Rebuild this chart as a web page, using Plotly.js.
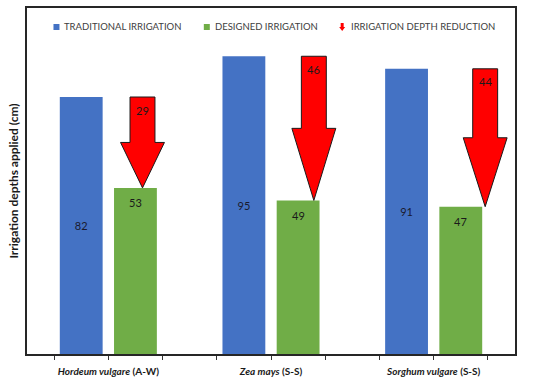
<!DOCTYPE html>
<html>
<head>
<meta charset="utf-8">
<script src="https://cdn.plot.ly/plotly-3.0.1.min.js"></script>
<style>html,body{margin:0;padding:0;background:#fff;}#chart{width:550px;height:385px;}</style>
</head>
<body>
<div id="chart"></div>
<script>
// ---- data ----
var crops = ['<b><i>Hordeum vulgare</i> (A-W)</b>', '<b><i>Zea mays</i> (S-S)</b>', '<b><i>Sorghum vulgare</i> (S-S)</b>'];
var traditional = [82, 95, 91];
var designed = [53, 49, 47];
var reduction = [29, 46, 44];
var seriesNames = ['TRADITIONAL IRRIGATION', 'DESIGNED IRRIGATION', 'IRRIGATION DEPTH REDUCTION'];

// ---- layout constants ----
var FONT = 'Lato, "Open Sans", sans-serif';
var ML = 26.5, MR = 35, MT = 8, MB = 31;
var W = 550, H = 385;
var PW = W - ML - MR, PH = H - MT - MB;
var BLUE = '#4472C4', GREEN = '#70AD47', RED = '#FF0000';
var arrowOffset = [0.13, 0.29, 0.45];
var shaftHalf = 0.23, headHalf = 0.405;

var xBlue = crops.map(function(_, i){ return 3*i + 0.5; });
var xGreen = crops.map(function(_, i){ return 3*i + 1.5; });

var traces = [
  {type:'bar', x:xBlue, y:traditional, width:0.79, marker:{color:BLUE},
   text:traditional.map(String), textposition:'inside', insidetextanchor:'middle',
   textfont:{family:FONT, size:11, color:'#1a1a2e'}, hoverinfo:'none', name:seriesNames[0]},
  {type:'bar', x:xGreen, y:designed, width:0.79, marker:{color:GREEN},
   hoverinfo:'none', name:seriesNames[1]}
];

var shapes = [];
var annotations = [];
function f(v){ return Number(v).toFixed(4); }
for (var i = 0; i < crops.length; i++) {
  var cx = xGreen[i] + arrowOffset[i];
  var yTop = traditional[i], yBot = designed[i], yMid = (yTop + yBot) / 2;
  shapes.push({type:'path', xref:'x', yref:'y',
    path:'M'+f(cx-shaftHalf)+','+f(yTop)+' L'+f(cx+shaftHalf)+','+f(yTop)+' L'+f(cx+shaftHalf)+','+f(yMid)+
         ' L'+f(cx+headHalf)+','+f(yMid)+' L'+f(cx)+','+f(yBot)+' L'+f(cx-headHalf)+','+f(yMid)+' L'+f(cx-shaftHalf)+','+f(yMid)+' Z',
    fillcolor:RED, line:{color:'#1a1a1a', width:1}});
  annotations.push({x:cx, y:yTop, xref:'x', yref:'y', text:String(reduction[i]), showarrow:false,
    yshift:-13, font:{family:FONT, size:11, color:'#1a1a1a'}});
  annotations.push({x:xGreen[i], y:designed[i], xref:'x', yref:'y', text:String(designed[i]), showarrow:false,
    yshift:-15, font:{family:FONT, size:11, color:'#1a1a1a'}});
}

// ---- manual legend ----
function px(x){ return (x - ML) / PW; }
function py(y){ return 1 - (y - MT) / PH; }
var legY = 27;
var legItems = [
  {sq:56, tx:62, color:BLUE, kind:'sq'},
  {sq:206.5, tx:212.5, color:GREEN, kind:'sq'},
  {sq:342, tx:348.5, color:RED, kind:'arrow'}
];
legItems.forEach(function(it, k){
  if (it.kind === 'sq') {
    shapes.push({type:'rect', xref:'paper', yref:'paper', x0:px(it.sq-3), x1:px(it.sq+3),
      y0:py(legY+3), y1:py(legY-3), fillcolor:it.color, line:{width:0}});
  } else {
    var c = it.sq;
    shapes.push({type:'path', xref:'paper', yref:'paper',
      path:'M'+f(px(c-1.5))+','+f(py(legY-4))+' L'+f(px(c+1.5))+','+f(py(legY-4))+' L'+f(px(c+1.5))+','+f(py(legY))+
           ' L'+f(px(c+3))+','+f(py(legY))+' L'+f(px(c))+','+f(py(legY+4))+' L'+f(px(c-3))+','+f(py(legY))+
           ' L'+f(px(c-1.5))+','+f(py(legY))+' Z',
      fillcolor:it.color, line:{width:0}});
  }
  annotations.push({xref:'paper', yref:'paper', x:px(it.tx), y:py(legY), xanchor:'left', yanchor:'middle',
    text:seriesNames[k], showarrow:false, font:{family:FONT, size:9.5, color:'#404040'}});
});

var tickvals = [0,1,2,3,4,5,6,7,8];
var ticktext = tickvals.map(function(v){ return (v % 3 === 1) ? crops[(v-1)/3] : ' '; });

var layout = {
  width:W, height:H, margin:{l:ML, r:MR, t:MT, b:MB}, paper_bgcolor:'#fff', plot_bgcolor:'#fff',
  font:{family:FONT, color:'#1a1a1a'},
  barmode:'overlay', showlegend:false,
  xaxis:{range:[-0.5, 8.5], tickmode:'array', tickvals:tickvals, ticktext:ticktext,
    ticks:'outside', ticklen:4, tickwidth:1, tickcolor:'#333', showgrid:false, zeroline:false,
    showline:true, mirror:true, linecolor:'#262626', linewidth:1.5, ticklabelstandoff:3,
    tickfont:{family:FONT, size:10, color:'#1a1a1a'}},
  yaxis:{range:[0, 110.4], showticklabels:false, ticks:'', showgrid:false, zeroline:false,
    showline:true, mirror:true, linecolor:'#262626', linewidth:1.5,
    title:{text:'<b>Irrigation depths applied (cm)</b>', font:{family:FONT, size:12, color:'#1a1a1a'}, standoff:4}},
  shapes:shapes, annotations:annotations
};

Plotly.newPlot('chart', traces, layout, {displayModeBar:false});
</script>
</body>
</html>
